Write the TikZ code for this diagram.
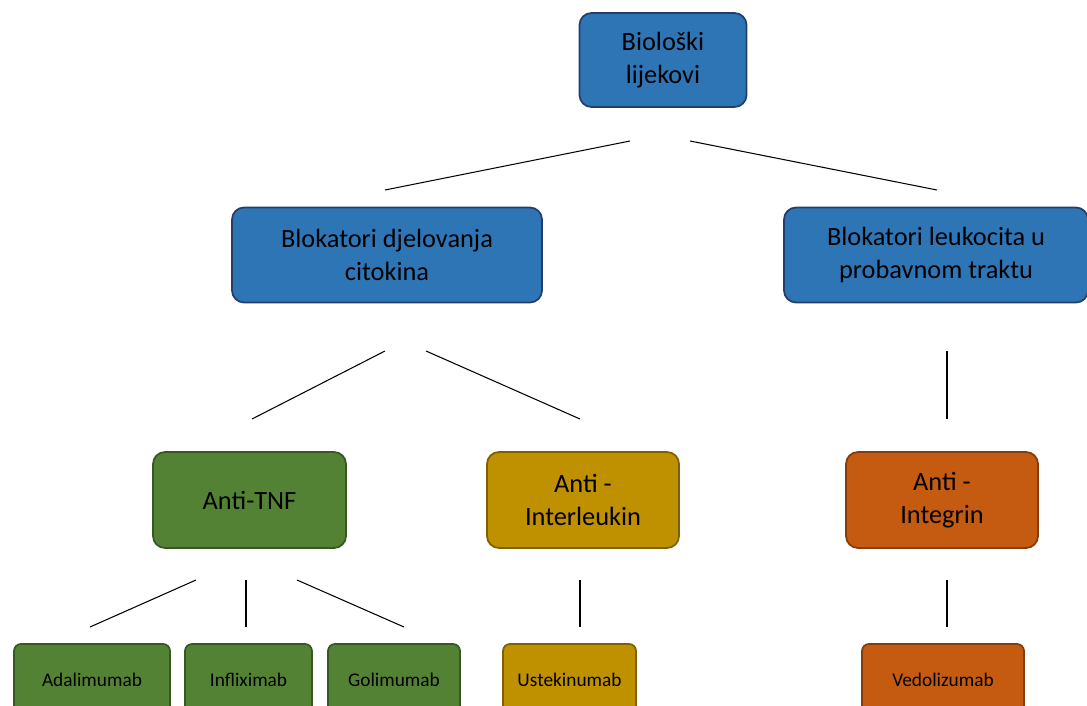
\documentclass[tikz,border=0pt]{standalone}
\usepackage{fontspec}
\setmainfont{Carlito}
\usepackage{tikz}
\usetikzlibrary{calc}
\definecolor{blokblue}{RGB}{46,117,182}
\definecolor{blokblueline}{RGB}{36,62,104}
\definecolor{tnfgreen}{RGB}{84,130,53}
\definecolor{tnfgreenline}{RGB}{56,87,35}
\definecolor{ilgold}{RGB}{191,144,0}
\definecolor{ilgoldline}{RGB}{127,96,0}
\definecolor{intorange}{RGB}{197,90,17}
\definecolor{intorangeline}{RGB}{132,60,12}
\newcommand{\drawlink}{\draw[black, line width=0.6pt]}

\begin{document}
\begin{tikzpicture}[
    box/.style={rounded corners=0.24cm, line width=1pt, align=center,
        inner sep=0pt, font=\fontsize{15}{19}\selectfont},
    smallbox/.style={rounded corners=0.14cm, line width=1pt, align=center,
        inner sep=0pt, font=\fontsize{11}{13}\selectfont},
    blue/.style={fill=blokblue, draw=blokblueline},
    green/.style={fill=tnfgreen, draw=tnfgreenline},
    gold/.style={fill=ilgold, draw=ilgoldline},
    orange/.style={fill=intorange, draw=intorangeline}]
    \clip (0,0) rectangle (21.74,-14.12);

    % Draw boxes
    \node[box, blue, minimum width=3.34cm, minimum height=1.88cm] (bio) at (13.26,-1.2) {Biološki\\lijekovi};
    \node[box, blue, minimum width=6.2cm, minimum height=1.9cm] (cito) at (7.74,-5.1) {Blokatori djelovanja\\citokina};
    \node[box, blue, minimum width=6.08cm, minimum height=1.9cm] (leuk) at (18.72,-5.1) {Blokatori leukocita u\\probavnom traktu};

    \node[box, green, minimum width=3.86cm, minimum height=1.92cm] (tnf) at (4.99,-10.0) {Anti-TNF};
    \node[box, gold, minimum width=3.84cm, minimum height=1.92cm] (il) at (11.66,-10.0) {Anti -\\Interleukin};
    \node[box, orange, minimum width=3.84cm, minimum height=1.92cm] (integ) at (18.84,-10.0) {Anti -\\Integrin};

    \node[smallbox, green, minimum width=3.12cm, minimum height=1.44cm] (adali) at (1.84,-13.6) {Adalimumab};
    \node[smallbox, green, minimum width=2.54cm, minimum height=1.44cm] (infli) at (4.97,-13.6) {Infliximab};
    \node[smallbox, green, minimum width=2.64cm, minimum height=1.44cm] (goli) at (7.88,-13.6) {Golimumab};
    \node[smallbox, gold, minimum width=2.66cm, minimum height=1.44cm] (ustek) at (11.39,-13.6) {Ustekinumab};
    \node[smallbox, orange, minimum width=3.24cm, minimum height=1.44cm] (vedo) at (18.86,-13.6) {Vedolizumab};

    % Draw link ends
    \coordinate (bioL) at (12.6,-2.82);
    \coordinate (bioR) at (13.8,-2.82);
    \coordinate (citoIn) at (7.7,-3.8);
    \coordinate (leukIn) at (18.74,-3.8);
    \coordinate (citoL) at (7.7,-7.02);
    \coordinate (citoR) at (8.52,-7.02);
    \coordinate (leukOut) at (18.94,-7.02);
    \coordinate (tnfIn) at (5.04,-8.38);
    \coordinate (ilIn) at (11.6,-8.38);
    \coordinate (integIn) at (18.94,-8.38);
    \coordinate (tnfL) at (3.92,-11.6);
    \coordinate (tnfM) at (4.92,-11.6);
    \coordinate (tnfR) at (5.94,-11.6);
    \coordinate (ilOut) at (11.6,-11.6);
    \coordinate (integOut) at (18.94,-11.6);
    \coordinate (adaliIn) at (1.8,-12.54);
    \coordinate (infliIn) at (4.92,-12.54);
    \coordinate (goliIn) at (8.08,-12.54);
    \coordinate (ustekIn) at (11.6,-12.54);
    \coordinate (vedoIn) at (18.94,-12.54);

    % Draw links
    \drawlink (bioL) -- (citoIn);
    \drawlink (bioR) -- (leukIn);
    \drawlink (citoL) -- (tnfIn);
    \drawlink (citoR) -- (ilIn);
    \drawlink (leukOut) -- (integIn);
    \drawlink (tnfL) -- (adaliIn);
    \drawlink (tnfM) -- (infliIn);
    \drawlink (tnfR) -- (goliIn);
    \drawlink (ilOut) -- (ustekIn);
    \drawlink (integOut) -- (vedoIn);
\end{tikzpicture}
\end{document}
